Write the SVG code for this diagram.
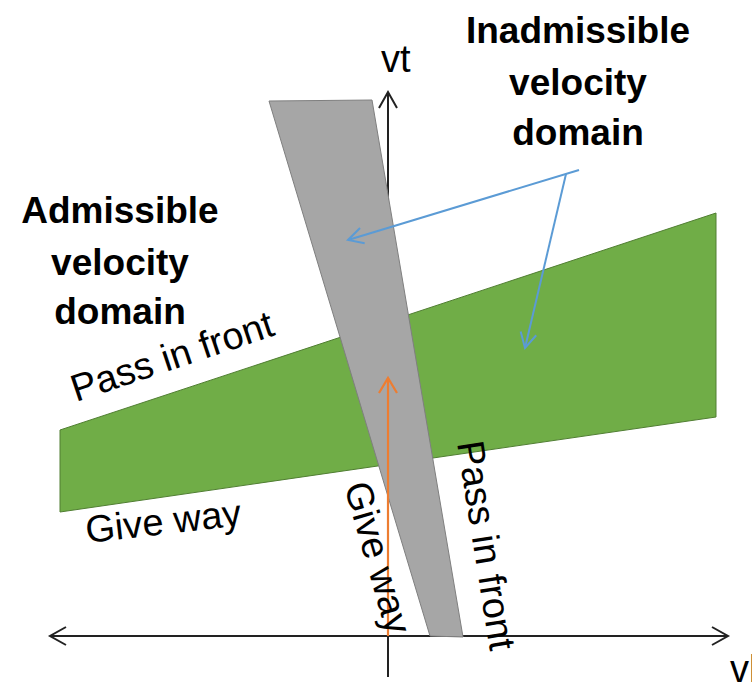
<svg xmlns="http://www.w3.org/2000/svg" width="752" height="687" viewBox="0 0 752 687">
<style>
text{font-family:"Liberation Sans",Arial,sans-serif;fill:#000}
.t{font-size:38px}
.b{font-size:37px;font-weight:bold;text-anchor:middle}
.axis{stroke:#222;stroke-width:2;fill:none}
.blue{stroke:#5B9BD5;stroke-width:2;fill:none}
.orange{stroke:#ED7D31;stroke-width:2.2;fill:none}
</style>
<defs>
<marker id="ah" markerUnits="userSpaceOnUse" viewBox="-20 -12 24 24" refX="0" refY="0" markerWidth="24" markerHeight="24" orient="auto-start-reverse">
<path d="M-16,-9 L0,0 L-16,9" fill="none" stroke="#222" stroke-width="2"/>
</marker>
<marker id="ab" markerUnits="userSpaceOnUse" viewBox="-20 -12 24 24" refX="0" refY="0" markerWidth="24" markerHeight="24" orient="auto">
<path d="M-15,-8 L0,0 L-15,8" fill="none" stroke="#5B9BD5" stroke-width="2"/>
</marker>
<marker id="ao" markerUnits="userSpaceOnUse" viewBox="-20 -12 24 24" refX="0" refY="0" markerWidth="24" markerHeight="24" orient="auto">
<path d="M-15,-9 L0,0 L-15,9" fill="none" stroke="#ED7D31" stroke-width="2.2"/>
</marker>
</defs>
<g id="axes">
<line class="axis" x1="50" y1="636" x2="728" y2="636" marker-start="url(#ah)" marker-end="url(#ah)"/>
<line class="axis" x1="388" y1="677" x2="388" y2="92" marker-end="url(#ah)"/>
<text class="t" x="381" y="72">vt</text>
<text class="t" x="730" y="682">vl</text>
</g>
<g id="admissible-domain">
<polygon points="60,430 716,213 716,417 60,512" fill="#70AD47" stroke="#507E32" stroke-width="1"/>
</g>
<g id="inadmissible-domain">
<polygon points="269,101 372,100 463,637 430,636" fill="#A6A6A6" stroke="#7F7F7F" stroke-width="1"/>
</g>
<g id="connectors">
<line class="orange" x1="388" y1="636" x2="388" y2="378" marker-end="url(#ao)"/>
<line class="blue" x1="579" y1="170" x2="348" y2="240" marker-end="url(#ab)"/>
<line class="blue" x1="566" y1="174" x2="525" y2="348" marker-end="url(#ab)"/>
</g>
<g id="labels">
<text class="b" x="578" y="43">Inadmissible</text>
<text class="b" x="578" y="95">velocity</text>
<text class="b" x="578" y="145">domain</text>
<text class="b" x="120" y="223">Admissible</text>
<text class="b" x="120" y="275">velocity</text>
<text class="b" x="120" y="324">domain</text>
<text class="t" transform="translate(76,402) rotate(-18.5)">Pass in front</text>
<text class="t" transform="translate(87,543) rotate(-6.5)">Give way</text>
<text class="t" transform="translate(344,486) rotate(74)">Give way</text>
<text class="t" transform="translate(457,443) rotate(81)">Pass in front</text>
</g>
</svg>
